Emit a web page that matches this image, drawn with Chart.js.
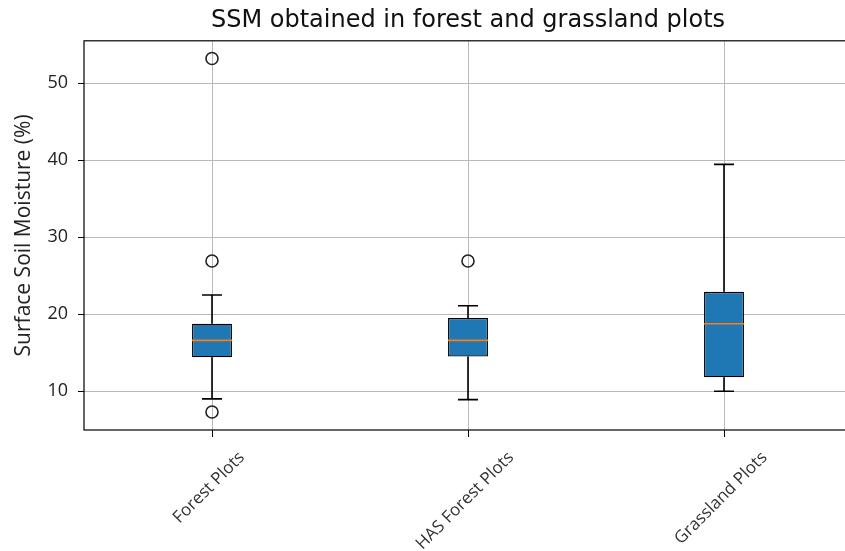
<!DOCTYPE html>
<html>
<head>
<meta charset="utf-8">
<script src="https://cdn.jsdelivr.net/npm/chart.js@4.4.0/dist/chart.umd.min.js"></script>
<style>
  html, body { margin: 0; padding: 0; overflow: hidden; background: #fff; }
  canvas { display: block; }
</style>
</head>
<body>
<canvas id="chart" width="870" height="551"></canvas>
<script>
// box plot values
const categories = ['Forest Plots', 'HAS Forest Plots', 'Grassland Plots'];
const whiskerLow = [9.0, 8.9, 10.0];
const q1 = [14.4, 14.5, 11.8];
const median = [16.6, 16.6, 18.75];
const q3 = [18.75, 19.5, 22.9];
const whiskerHigh = [22.5, 21.1, 39.45];
const outliers = [[7.3, 26.9, 53.2], [26.9], []];
const yTicks = [10, 20, 30, 40, 50];

const boxColor = '#1f77b4';
const medianColor = '#ff7f0e';
const gridColor = '#b9b9b9';

// whiskers, caps, medians, frame and rotated x labels
const boxExtras = {
    id: 'boxExtras',
    afterDatasetsDraw(chart) {
        const ctx = chart.ctx;
        const y = chart.scales.y;
        const meta = chart.getDatasetMeta(0);
        ctx.save();
        meta.data.forEach((bar, i) => {
            const p = bar.getProps(['x', 'width'], true);
            const cx = p.x, w = p.width;
            ctx.strokeStyle = '#000';
            ctx.lineWidth = 1.6;
            ctx.beginPath();
            ctx.moveTo(cx, y.getPixelForValue(q3[i]));
            ctx.lineTo(cx, y.getPixelForValue(whiskerHigh[i]));
            ctx.moveTo(cx, y.getPixelForValue(q1[i]));
            ctx.lineTo(cx, y.getPixelForValue(whiskerLow[i]));
            ctx.moveTo(cx - w / 4, y.getPixelForValue(whiskerHigh[i]));
            ctx.lineTo(cx + w / 4, y.getPixelForValue(whiskerHigh[i]));
            ctx.moveTo(cx - w / 4, y.getPixelForValue(whiskerLow[i]));
            ctx.lineTo(cx + w / 4, y.getPixelForValue(whiskerLow[i]));
            ctx.stroke();

            ctx.strokeStyle = medianColor;
            ctx.lineWidth = 1.6;
            ctx.beginPath();
            ctx.moveTo(cx - w / 2, y.getPixelForValue(median[i]));
            ctx.lineTo(cx + w / 2, y.getPixelForValue(median[i]));
            ctx.stroke();
        });
        ctx.restore();
    },
    afterDraw(chart) {
        const ctx = chart.ctx;
        const a = chart.chartArea;
        const x = chart.scales.x;
        ctx.save();
        ctx.strokeStyle = '#000';
        ctx.lineWidth = 1.2;
        ctx.strokeRect(a.left, a.top, a.right - a.left, a.bottom - a.top);

        // x tick labels, rotated 45 degrees and centred under the tick
        const size = 17;
        ctx.font = size + 'px "Open Sans"';
        ctx.fillStyle = '#333';
        ctx.textAlign = 'center';
        ctx.textBaseline = 'middle';
        categories.forEach((label, i) => {
            const px = x.getPixelForValue(i);
            const L = ctx.measureText(label).width;
            const cy = a.bottom + 20 + 0.707 * (L + size * 0.8) / 2;
            ctx.save();
            ctx.translate(px - 3, cy);
            ctx.rotate(-Math.PI / 4);
            ctx.fillText(label, 0, 0);
            ctx.restore();
        });
        ctx.restore();
    }
};

const outlierPoints = [];
outliers.forEach((list, i) => {
    list.forEach(v => outlierPoints.push({ x: categories[i], y: v }));
});

new Chart(document.getElementById('chart'), {
    type: 'bar',
    data: {
        labels: categories,
        datasets: [
            {
                data: categories.map((c, i) => [q1[i], q3[i]]),
                backgroundColor: boxColor,
                borderColor: '#000',
                borderWidth: 1.3,
                borderSkipped: false,
                barPercentage: 0.156,
                categoryPercentage: 1
            },
            {
                type: 'line',
                data: outlierPoints,
                showLine: false,
                pointRadius: 6,
                pointBorderWidth: 1.6,
                pointBorderColor: '#222',
                pointBackgroundColor: 'rgba(0,0,0,0)'
            }
        ]
    },
    options: {
        responsive: false,
        animation: false,
        layout: { padding: { left: 0, right: 18, top: 0, bottom: 0 } },
        plugins: {
            legend: { display: false },
            tooltip: { enabled: false },
            title: {
                display: true,
                text: 'SSM obtained in forest and grassland plots',
                fullSize: false,
                color: '#111',
                font: { family: 'DejaVu Sans', size: 24, weight: 'normal', lineHeight: 1.2 },
                padding: { top: 6, bottom: 6 }
            }
        },
        scales: {
            x: {
                type: 'category',
                offset: true,
                border: { display: false },
                grid: { offset: false, color: gridColor, tickColor: '#000', tickLength: 7 },
                ticks: { display: false },
                afterFit(scale) { scale.height = 121; }
            },
            y: {
                type: 'linear',
                min: 4.96,
                max: 55.5,
                border: { display: false },
                grid: { color: gridColor, tickColor: '#000', tickLength: 6 },
                afterBuildTicks(scale) { scale.ticks = yTicks.map(v => ({ value: v })); },
                ticks: {
                    color: '#222',
                    padding: 10,
                    font: { family: 'Open Sans', size: 18 }
                },
                title: {
                    display: true,
                    text: 'Surface Soil Moisture (%)',
                    color: '#222',
                    font: { family: 'Open Sans', size: 21, lineHeight: 1.2 },
                    padding: { top: 11, bottom: 0 }
                },
                afterFit(scale) { scale.width = 84; }
            }
        }
    },
    plugins: [boxExtras]
});
</script>
</body>
</html>
